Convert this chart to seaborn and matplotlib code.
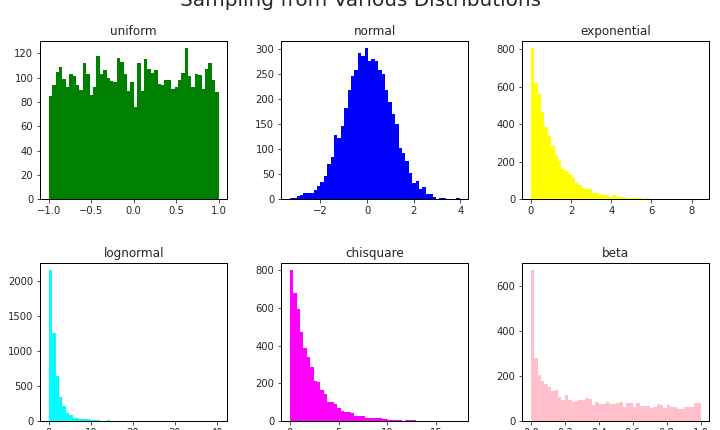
import numpy as np
import pandas as pd
import matplotlib
matplotlib.use("Agg")
import matplotlib.pyplot as plt
import seaborn as sns

# ---- data (counts per bin, 50 bins each) ----
titles = ["uniform", "normal", "exponential", "lognormal", "chisquare", "beta"]
colors = ["green", "blue", "yellow", "cyan", "magenta", "pink"]

uniform_range = (-1.0, 1.0)
uniform_counts = [85, 94, 105, 109, 99, 92, 103, 101, 94, 90,
                  112, 103, 86, 92, 118, 103, 106, 100, 97, 96,
                  116, 113, 103, 89, 96, 76, 112, 89, 115, 107,
                  104, 106, 95, 94, 98, 98, 91, 92, 98, 104,
                  124, 101, 92, 103, 102, 91, 107, 112, 98, 88]

normal_range = (-3.31, 3.97)
normal_counts = [2, 2, 6, 8, 12, 12, 12, 18, 26, 34,
                 46, 70, 84, 128, 122, 146, 182, 218, 246, 258,
                 292, 286, 302, 276, 280, 276, 258, 250, 218, 194,
                 170, 150, 102, 92, 76, 52, 32, 36, 20, 24,
                 10, 10, 5, 1, 2, 2, 0, 0, 0, 2]

exponential_range = (0.0, 8.45)
exponential_counts = [805, 622, 560, 468, 388, 335, 282, 235, 205, 160,
                      150, 135, 112, 88, 78, 62, 55, 55, 32, 32,
                      25, 20, 20, 14, 22, 10, 10, 10, 5, 5,
                      5, 5, 5, 3, 5, 3, 2, 3, 1, 0,
                      0, 1, 0, 0, 0, 3, 0, 0, 0, 1]

lognormal_range = (0.03, 40.4)
lognormal_counts = [2160, 1260, 640, 345, 210, 115, 85, 45, 40, 28,
                    28, 25, 15, 15, 12, 5, 5, 12, 3, 2,
                    2, 1, 1, 1, 0, 1, 0, 0, 0, 0,
                    0, 0, 0, 0, 0, 0, 0, 0, 0, 0,
                    0, 0, 0, 0, 0, 0, 0, 0, 0, 1]

chisquare_range = (0.0, 17.4)
chisquare_counts = [800, 680, 595, 470, 385, 340, 285, 210, 205, 165,
                    145, 102, 102, 90, 70, 52, 45, 48, 42, 28,
                    28, 28, 15, 15, 15, 15, 15, 12, 8, 5,
                    5, 5, 5, 0, 3, 5, 5, 1, 0, 0,
                    0, 0, 0, 0, 0, 0, 0, 0, 0, 1]

beta_range = (0.0, 1.0)
beta_counts = [670, 280, 205, 178, 165, 152, 135, 138, 108, 95,
               115, 95, 85, 88, 94, 94, 103, 98, 72, 85,
               74, 74, 85, 74, 75, 78, 85, 60, 78, 80,
               64, 80, 65, 68, 68, 56, 62, 76, 72, 56,
               72, 63, 63, 55, 55, 62, 62, 62, 80, 80]

suptitle = "Sampling from Various Distributions"

all_counts = [uniform_counts, normal_counts, exponential_counts,
              lognormal_counts, chisquare_counts, beta_counts]
all_ranges = [uniform_range, normal_range, exponential_range,
              lognormal_range, chisquare_range, beta_range]

sns.set_style("ticks")
plt.rcParams["font.family"] = ["DejaVu Sans"]

fig, axes = plt.subplots(2, 3, figsize=(10, 430 / 72), dpi=72)
fig.subplots_adjust(left=0.056, right=0.985, top=0.905, bottom=0.021,
                    wspace=0.29, hspace=0.40)

for ax, title, color, counts, rng in zip(axes.flat, titles, colors,
                                         all_counts, all_ranges):
    edges = np.linspace(rng[0], rng[1], len(counts) + 1)
    df = pd.DataFrame({"x": (edges[:-1] + edges[1:]) / 2,
                       "w": np.asarray(counts, dtype=float)})
    sns.histplot(data=df, x="x", weights="w", bins=list(edges),
                 color=color, alpha=1.0, linewidth=0, ax=ax)
    ax.set_title(title, fontsize=12)
    ax.set_xlabel("")
    ax.set_ylabel("")
    ax.tick_params(labelsize=10, direction="out", length=3.5)
    for s in ax.spines.values():
        s.set_linewidth(1.0)
        s.set_color("black")

fig.suptitle(suptitle, fontsize=20, y=1 - 6 / 430, va="baseline")

fig.savefig("out.png", dpi=72)
